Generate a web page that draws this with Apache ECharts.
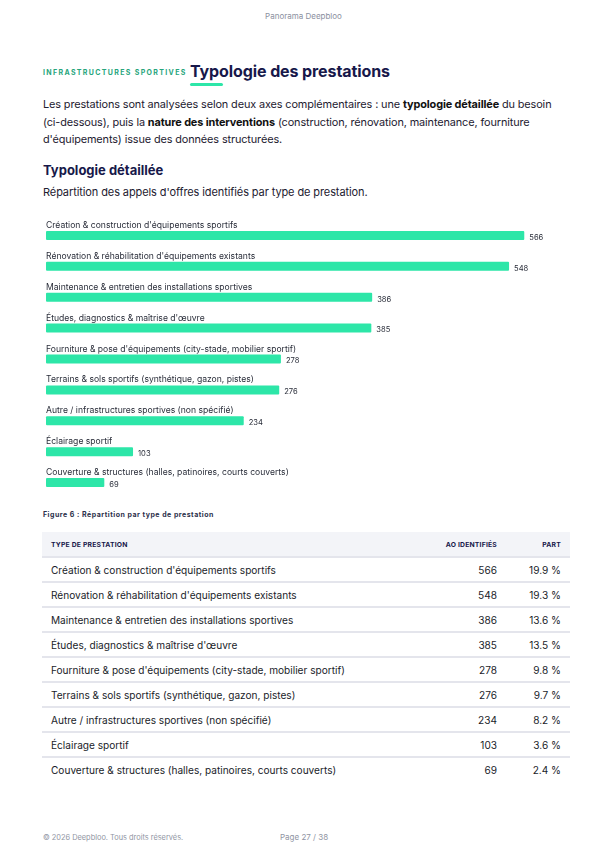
<!DOCTYPE html>
<html lang="fr">
<head>
<meta charset="utf-8">
<script src="https://cdn.jsdelivr.net/npm/echarts@6/dist/echarts.min.js"></script>
<style>
  html, body { margin: 0; padding: 0; background: #fff; }
  body { width: 607px; height: 860px; position: relative; overflow: hidden; font-family: Inter, "Noto Sans", sans-serif; color: #1f2430; }
  .abs { position: absolute; }
  #top { left: 0; width: 607px; top: 11px; text-align: center; font-size: 8px; color: #8b90a0; }
  #kicker { left: 43px; top: 68px; font-size: 7px; font-weight: 700; letter-spacing: 1.35px; color: #27a57c; }
  #title { left: 190px; top: 61px; font-size: 16px; font-weight: 700; color: #17184a; letter-spacing: -0.1px; }
  #uline { left: 190px; top: 83px; width: 33px; height: 3px; background: #2de6a8; border-radius: 2px; }
  #intro { left: 43px; top: 96px; width: 522px; font-size: 10.9px; letter-spacing: -0.12px; line-height: 17.6px; color: #1d2030; }
  #intro b { color: #111; }
  #h2 { left: 43px; top: 162px; font-size: 13px; font-weight: 700; color: #17184a; }
  #sub { left: 43px; top: 185px; font-size: 11px; letter-spacing: -0.1px; color: #1d2030; }
  #chart { left: 0; top: 200px; width: 607px; height: 300px; }
  #fig { left: 43px; top: 510px; font-size: 7px; font-weight: 700; letter-spacing: 0.5px; color: #2b2f4a; }
  table { position: absolute; left: 42px; top: 532px; width: 528px; border-collapse: collapse; font-size: 10.1px; color: #1a1d2a; }
  th { background: #f3f4f8; height: 24px; font-size: 6.8px; font-weight: 700; color: #17184a; letter-spacing: 0.2px; text-align: left; padding: 0 9px; border-bottom: 2px solid #e4e5ec; }
  td { height: 23px; padding: 0 9px; border-bottom: 2px solid #e4e5ec; }
  tr:last-child td { border-bottom: none; }
  .r { text-align: right; }
  #foot1 { left: 43px; top: 833px; font-size: 7.4px; color: #9095a3; }
  #foot2 { left: 280px; top: 832px; font-size: 8px; color: #9095a3; }
</style>
</head>
<body>
<div id="top" class="abs">Panorama Deepbloo</div>
<div id="kicker" class="abs">INFRASTRUCTURES SPORTIVES</div>
<div id="title" class="abs">Typologie des prestations</div>
<div id="uline" class="abs"></div>
<div id="intro" class="abs">Les prestations sont analysées selon deux axes complémentaires : une <b>typologie détaillée</b> du besoin (ci-dessous), puis la <b>nature des interventions</b> (construction, rénovation, maintenance, fourniture d'équipements) issue des données structurées.</div>
<div id="h2" class="abs">Typologie détaillée</div>
<div id="sub" class="abs">Répartition des appels d'offres identifiés par type de prestation.</div>
<div id="chart" class="abs"></div>
<div id="fig" class="abs">Figure 6 : Répartition par type de prestation</div>
<table id="tbl"></table>
<div id="foot1" class="abs">© 2026 Deepbloo. Tous droits réservés.</div>
<div id="foot2" class="abs">Page 27 / 38</div>

<script>
var categories = [
  "Création & construction d'équipements sportifs",
  "Rénovation & réhabilitation d'équipements existants",
  "Maintenance & entretien des installations sportives",
  "Études, diagnostics & maîtrise d'œuvre",
  "Fourniture & pose d'équipements (city-stade, mobilier sportif)",
  "Terrains & sols sportifs (synthétique, gazon, pistes)",
  "Autre / infrastructures sportives (non spécifié)",
  "Éclairage sportif",
  "Couverture & structures (halles, patinoires, courts couverts)"
];
var counts = [566, 548, 386, 385, 278, 276, 234, 103, 69];
var shares = ["19.9 %", "19.3 %", "13.6 %", "13.5 %", "9.8 %", "9.7 %", "8.2 %", "3.6 %", "2.4 %"];
var headers = ["TYPE DE PRESTATION", "AO IDENTIFIÉS", "PART"];

// table built from the same arrays
var tbl = document.getElementById('tbl');
var html = '<tr><th>' + headers[0] + '</th><th class="r" style="width:90px">' + headers[1] + '</th><th class="r" style="width:46px">' + headers[2] + '</th></tr>';
categories.forEach(function (c, i) {
  html += '<tr><td>' + c + '</td><td class="r">' + counts[i] + '</td><td class="r">' + shares[i] + '</td></tr>';
});
tbl.innerHTML = html;

var chart = echarts.init(document.getElementById('chart'));
chart.setOption({
  animation: false,
  grid: { left: 46, top: 20, width: 507, height: 278 },
  xAxis: { type: 'value', min: 0, max: 600, show: false },
  yAxis: { type: 'category', data: categories, inverse: true, show: false },
  series: [{
    // invisible twin bar carrying the category name above each bar
    type: 'bar',
    data: counts,
    barWidth: 9,
    barGap: '-100%',
    itemStyle: { color: 'rgba(0,0,0,0)' },
    label: {
      show: true,
      position: [0, -10],
      formatter: '{b}',
      fontFamily: 'Inter',
      fontSize: 8.6,
      color: '#2a2e3a'
    },
    silent: true
  }, {
    type: 'bar',
    data: counts,
    barWidth: 9,
    itemStyle: { color: '#2de6a8', borderRadius: 1 },
    label: {
      show: true,
      position: 'right',
      distance: 5,
      offset: [0, 2],
      fontFamily: 'Inter',
      fontSize: 7.6,
      color: '#2a2e3a'
    }
  }]
});
</script>
</body>
</html>
